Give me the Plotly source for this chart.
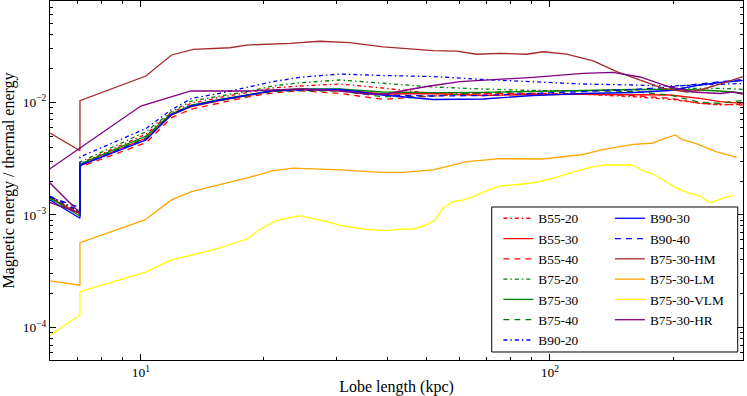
import plotly.graph_objects as go

# lobe length (kpc) samples shared by the B-series runs
lobe_b = [6.0, 7.1, 7.1, 10.3, 11.85, 13.3, 15.6, 18.2, 21.0, 24.5, 30.7, 39.0,
          51.8, 68.6, 90.8, 120.4, 159.6, 196.5, 232.6, 260.4, 296.0]

b55_20 = [1.459e-3, 1.031e-3, 2.86e-3, 5.23e-3, 8.04e-3, 9.86e-3, 1.103e-2, 1.222e-2, 1.339e-2, 1.395e-2, 1.453e-2,
          1.339e-2, 1.197e-2, 1.185e-2, 1.178e-2, 1.178e-2, 1.121e-2, 1.063e-2, 9.80e-3, 9.46e-3, 9.66e-3]
b55_30 = [1.429e-3, 1.021e-3, 2.75e-3, 4.82e-3, 7.64e-3, 9.18e-3, 1.037e-2, 1.149e-2, 1.260e-2, 1.294e-2, 1.286e-2,
          1.185e-2, 1.197e-2, 1.149e-2, 1.173e-2, 1.178e-2, 1.178e-2, 1.161e-2, 1.085e-2, 1.012e-2, 9.80e-3]
b55_40 = [1.444e-3, 1.021e-3, 2.67e-3, 4.38e-3, 7.26e-3, 8.72e-3, 9.86e-3, 1.114e-2, 1.209e-2, 1.268e-2, 1.197e-2,
          1.063e-2, 1.137e-2, 1.202e-2, 1.202e-2, 1.185e-2, 1.149e-2, 1.085e-2, 9.80e-3, 9.60e-3, 9.46e-3]
b75_20 = [1.444e-3, 1.085e-3, 2.95e-3, 5.48e-3, 8.20e-3, 1.027e-2, 1.137e-2, 1.242e-2, 1.395e-2, 1.492e-2, 1.578e-2,
          1.483e-2, 1.367e-2, 1.312e-2, 1.273e-2, 1.268e-2, 1.286e-2, 1.326e-2, 1.331e-2, 1.331e-2, 1.304e-2]
b75_30 = [1.415e-3, 9.80e-4, 2.83e-3, 5.02e-3, 7.87e-3, 9.46e-3, 1.059e-2, 1.173e-2, 1.273e-2, 1.312e-2, 1.312e-2,
          1.234e-2, 1.217e-2, 1.227e-2, 1.242e-2, 1.273e-2, 1.299e-2, 1.304e-2, 1.286e-2, 1.260e-2, 1.209e-2]
b75_40 = [1.400e-3, 1.000e-3, 2.78e-3, 4.87e-3, 7.72e-3, 9.27e-3, 1.037e-2, 1.149e-2, 1.247e-2, 1.268e-2, 1.260e-2,
          1.121e-2, 1.137e-2, 1.222e-2, 1.247e-2, 1.268e-2, 1.247e-2, 1.161e-2, 1.000e-2, 9.80e-3, 1.037e-2]
b90_20 = [1.475e-3, 1.063e-3, 3.27e-3, 5.86e-3, 8.55e-3, 1.081e-2, 1.202e-2, 1.359e-2, 1.523e-2, 1.666e-2, 1.782e-2,
          1.729e-2, 1.694e-2, 1.594e-2, 1.514e-2, 1.453e-2, 1.424e-2, 1.395e-2, 1.424e-2, 1.453e-2, 1.468e-2]
b90_30 = [1.36e-3, 9.35e-4, 2.74e-3, 4.63e-3, 7.72e-3, 9.27e-3, 1.048e-2, 1.161e-2, 1.268e-2, 1.304e-2, 1.299e-2,
          1.161e-2, 1.059e-2, 1.070e-2, 1.149e-2, 1.197e-2, 1.222e-2, 1.273e-2, 1.424e-2, 1.499e-2, 1.562e-2]
b90_40 = [1.444e-3, 1.165e-3, 2.78e-3, 4.68e-3, 7.79e-3, 9.37e-3, 1.048e-2, 1.161e-2, 1.260e-2, 1.286e-2, 1.273e-2,
          1.161e-2, 1.137e-2, 1.149e-2, 1.197e-2, 1.234e-2, 1.299e-2, 1.367e-2, 1.453e-2, 1.530e-2, 1.594e-2]

# B75-30-HM
lobe_hm = [6.0, 7.1, 7.1, 10.29, 11.89, 13.43, 16.5, 18.13, 23.14, 27.39, 32.43, 39.13, 51.84, 59.15, 66.2,
           75.47, 87.7, 96.3, 109.9, 127.6, 145.6, 166.0, 189.2, 216.3, 232.6, 260.4, 296.5]
hm = [5.34e-3, 3.72e-3, 1.033e-2, 1.712e-2, 2.63e-2, 2.95e-2, 3.05e-2, 3.22e-2, 3.34e-2, 3.48e-2, 3.38e-2,
      3.11e-2, 2.87e-2, 2.85e-2, 2.67e-2, 2.72e-2, 2.67e-2, 2.81e-2, 2.68e-2, 2.33e-2, 1.87e-2, 1.578e-2,
      1.331e-2, 1.234e-2, 1.286e-2, 1.453e-2, 1.69e-2]

# B75-30-LM
lobe_lm = [6.0, 7.1, 7.1, 10.23, 11.89, 13.3, 18.1, 21.1, 23.6, 30.7, 38.4, 43.7, 51.8, 62.6, 75.5, 96.1,
           120.4, 132.5, 159.6, 177.3, 188.9, 202.9, 209.9, 226.2, 255.6, 286.1]
lm = [2.60e-4, 2.38e-4, 5.68e-4, 9.03e-4, 1.36e-3, 1.61e-3, 2.12e-3, 2.47e-3, 2.60e-3, 2.51e-3, 2.39e-3,
      2.39e-3, 2.51e-3, 2.97e-3, 3.16e-3, 3.14e-3, 3.44e-3, 3.77e-3, 4.24e-3, 4.33e-3, 4.72e-3, 5.13e-3,
      4.69e-3, 4.35e-3, 3.64e-3, 3.24e-3]

# B75-30-VLM
lobe_vlm = [6.0, 7.1, 7.1, 10.23, 11.89, 15.02, 18.13, 19.73, 21.47, 24.48, 28.98, 30.95, 35.29, 39.88,
            42.98, 46.33, 49.47, 52.35, 54.84, 58.01, 61.38, 64.94, 71.35, 75.47, 84.48, 91.92, 100.0,
            108.8, 115.1, 125.2, 136.3, 158.7, 170.8, 180.6, 194.3, 204.4, 219.9, 232.6, 243.4, 248.9,
            257.5, 272.4, 280.2]
vlm = [8.61e-5, 1.296e-4, 2.086e-4, 3.10e-4, 3.99e-4, 4.89e-4, 6.09e-4, 7.62e-4, 8.90e-4, 9.86e-4, 8.61e-4,
       8.04e-4, 7.47e-4, 7.26e-4, 7.47e-4, 7.51e-4, 8.04e-4, 9.03e-4, 1.161e-3, 1.312e-3, 1.358e-3, 1.453e-3,
       1.690e-3, 1.808e-3, 1.873e-3, 1.934e-3, 2.086e-3, 2.264e-3, 2.422e-3, 2.650e-3, 2.778e-3, 2.778e-3,
       2.422e-3, 2.264e-3, 1.911e-3, 1.725e-3, 1.558e-3, 1.475e-3, 1.312e-3, 1.296e-3, 1.358e-3, 1.453e-3,
       1.475e-3]

# B75-30-HR
lobe_hr = [5.0, 7.1, 5.0, 10.0, 13.25, 18.13, 24.5, 30.7, 35.62, 39.88, 44.63, 50.88, 60.26, 70.0, 90.9,
           120.4, 142.6, 166.0, 196.5, 223.7, 260.4, 280.2, 296.5]
hr = [3.73e-3, 1.04e-3, 1.63e-3, 9.27e-3, 1.26e-2, 1.26e-2, 1.312e-2, 1.26e-2, 1.185e-2, 1.185e-2, 1.286e-2,
      1.395e-2, 1.523e-2, 1.578e-2, 1.666e-2, 1.808e-2, 1.845e-2, 1.677e-2, 1.367e-2, 1.234e-2, 1.197e-2,
      1.234e-2, 1.185e-2]

DASHDOT = "4px,3px,1.5px,3px"
DASHED = "6px,5px"

series = [
    ("B55-20", lobe_b, b55_20, "#ff0000", DASHDOT, "legend"),
    ("B55-30", lobe_b, b55_30, "#ff0000", "solid", "legend"),
    ("B55-40", lobe_b, b55_40, "#ff0000", DASHED, "legend"),
    ("B75-20", lobe_b, b75_20, "#008000", DASHDOT, "legend"),
    ("B75-30", lobe_b, b75_30, "#008000", "solid", "legend"),
    ("B75-40", lobe_b, b75_40, "#008000", DASHED, "legend"),
    ("B90-20", lobe_b, b90_20, "#0000ff", DASHDOT, "legend"),
    ("B90-30", lobe_b, b90_30, "#0000ff", "solid", "legend2"),
    ("B90-40", lobe_b, b90_40, "#0000ff", DASHED, "legend2"),
    ("B75-30-HM", lobe_hm, hm, "#a52a2a", "solid", "legend2"),
    ("B75-30-LM", lobe_lm, lm, "#ffa500", "solid", "legend2"),
    ("B75-30-VLM", lobe_vlm, vlm, "#ffff00", "solid", "legend2"),
    ("B75-30-HR", lobe_hr, hr, "#800080", "solid", "legend2"),
]

fig = go.Figure()
for name, x, y, color, dash, leg in series:
    fig.add_trace(go.Scatter(x=x, y=y, mode="lines", name=name, legend=leg,
                             line=dict(color=color, width=1.3, dash=dash)))

FONT = "Liberation Serif"
x_minor = [7, 8, 9, 20, 30, 40, 50, 60, 70, 80, 90, 200, 300]
y_minor = [m * 10.0 ** e for e in (-5, -4, -3, -2) for m in range(2, 10)]

legend_style = dict(xanchor="left", yanchor="top", bgcolor="rgba(0,0,0,0)", borderwidth=0,
                    font=dict(family=FONT, size=13.3, color="black"), tracegroupgap=0)

fig.update_layout(
    width=747, height=396,
    margin=dict(l=50, r=4, t=1, b=36, autoexpand=False),
    paper_bgcolor="white", plot_bgcolor="white",
    font=dict(family=FONT, size=13.5, color="black"),
    showlegend=True,
    legend=dict(x=0.647, y=0.437, **legend_style),
    legend2=dict(x=0.808, y=0.437, **legend_style),
    xaxis=dict(type="log", range=[0.778, 2.472], showgrid=False, zeroline=False, automargin=False,
               showline=True, linecolor="black", linewidth=1, mirror="allticks",
               ticks="inside", ticklen=6, tickcolor="black",
               tickvals=[10, 100], ticktext=["10<sup>1</sup>", "10<sup>2</sup>"],
               minor=dict(ticks="inside", ticklen=3, tickcolor="black", tickvals=x_minor, showgrid=False),
               title=dict(text="Lobe length (kpc)", standoff=4)),
    yaxis=dict(type="log", range=[-4.287, -1.101], showgrid=False, zeroline=False, automargin=False,
               showline=True, linecolor="black", linewidth=1, mirror="allticks",
               ticks="inside", ticklen=6, tickcolor="black",
               tickvals=[1e-4, 1e-3, 1e-2],
               ticktext=["10<sup>\u22124</sup>", "10<sup>\u22123</sup>", "10<sup>\u22122</sup>"],
               minor=dict(ticks="inside", ticklen=3, tickcolor="black", tickvals=y_minor, showgrid=False),
               title=dict(text="Magnetic energy / thermal energy", standoff=4)),
    shapes=[dict(type="rect", xref="paper", yref="paper", x0=0.6374, x1=0.9924, y0=0.0223, y1=0.4262,
                 line=dict(color="black", width=1), fillcolor="white", layer="above")],
)

# drop the browser's default body margin so the figure sits at the window's corner
fig.write_html("out.html", config={"displayModeBar": False},
               post_script="document.body.style.margin = '0';")
